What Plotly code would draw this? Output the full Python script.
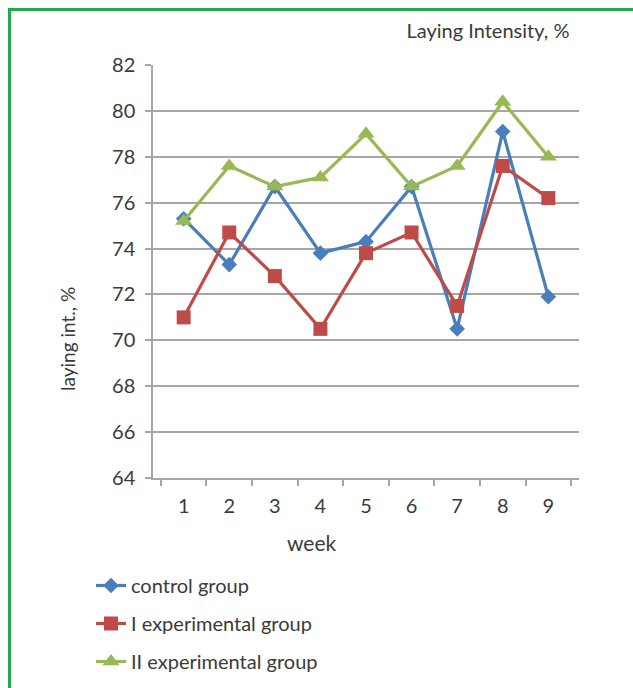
import plotly.graph_objects as go

# Weekly laying intensity, %
weeks = ["1", "2", "3", "4", "5", "6", "7", "8", "9"]
control = [75.3, 73.3, 76.7, 73.8, 74.3, 76.7, 70.5, 79.1, 71.9]
exp_one = [71.0, 74.7, 72.8, 70.5, 73.8, 74.7, 71.5, 77.6, 76.2]
exp_two = [75.2, 77.6, 76.7, 77.1, 79.0, 76.7, 77.6, 80.4, 78.0]
y_ticks = [64, 66, 68, 70, 72, 74, 76, 78, 80, 82]

W, H = 633, 688
L, R, T, B = 153, 54, 65, 210
PW, PH = W - L - R, H - T - B


def px_x(px):
    return (px - L) / PW


def px_y(py):
    return (H - B - py) / PH


FONT = "Lato"
TXT = "#3a3a3a"
GRID = "#a6a6a6"

fig = go.Figure()
series = [
    ("control group", control, "#4a7ebb", "diamond", 12),
    ("I experimental group", exp_one, "#be4b48", "square", 14),
    ("II experimental group", exp_two, "#98b954", "triangle-up", 15),
]
for name, vals, color, sym, size in series:
    fig.add_trace(go.Scatter(
        x=weeks, y=vals, name=name, mode="lines+markers",
        legendgroup=name,
        line=dict(color=color, width=3.2),
        marker=dict(symbol=sym, size=size, color=color),
    ))

fig.update_layout(
    width=W, height=H,
    margin=dict(l=L, r=R, t=T, b=B),
    paper_bgcolor="white", plot_bgcolor="white",
    font=dict(family=FONT, size=20, color=TXT),
    title=dict(text="Laying Intensity, %", xref="container", yref="container",
               x=488 / W, y=1 - 31 / H, xanchor="center", yanchor="middle",
               font=dict(family=FONT, size=20, color=TXT)),
    xaxis=dict(
        type="category", categoryorder="array", categoryarray=weeks,
        showgrid=False, showline=True, linecolor=GRID, linewidth=1.5,
        ticks="outside", tickson="boundaries", ticklen=6, tickcolor=GRID,
        tickwidth=1.5, ticklabelstandoff=9,
        automargin=False, fixedrange=True,
    ),
    yaxis=dict(
        range=[64, 82], tickvals=y_ticks, ticktext=[str(v) for v in y_ticks],
        showgrid=True, gridcolor=GRID, gridwidth=1.5,
        showline=True, linecolor=GRID, linewidth=1.5,
        ticks="outside", ticklen=6, tickcolor=GRID, tickwidth=1.5,
        ticklabelstandoff=6, zeroline=False,
        automargin=False, fixedrange=True,
    ),
    legend=dict(
        orientation="v", xref="paper", yref="container",
        x=px_x(91), y=1 - 566 / H, xanchor="left", yanchor="top",
        traceorder="grouped", tracegroupgap=9,
        font=dict(family=FONT, size=20, color=TXT),
        bgcolor="rgba(0,0,0,0)",
    ),
    showlegend=True,
    # axis captions sit off-centre relative to the plot area
    annotations=[
        dict(text="week", xref="paper", yref="paper",
             x=px_x(312), y=px_y(542), xanchor="center", yanchor="middle",
             showarrow=False, font=dict(family=FONT, size=21, color=TXT)),
        dict(text="laying int., %", xref="paper", yref="paper",
             x=px_x(67), y=px_y(339), xanchor="center", yanchor="middle",
             textangle=-90, showarrow=False,
             font=dict(family=FONT, size=19, color=TXT)),
    ],
    shapes=[dict(
        type="rect", xref="paper", yref="paper",
        x0=px_x(9.5), x1=px_x(W + 20), y0=px_y(9.5), y1=px_y(H + 20),
        line=dict(color="#1aae4a", width=3), fillcolor="rgba(0,0,0,0)",
        layer="above",
    )],
)

fig.write_html("out.html")
